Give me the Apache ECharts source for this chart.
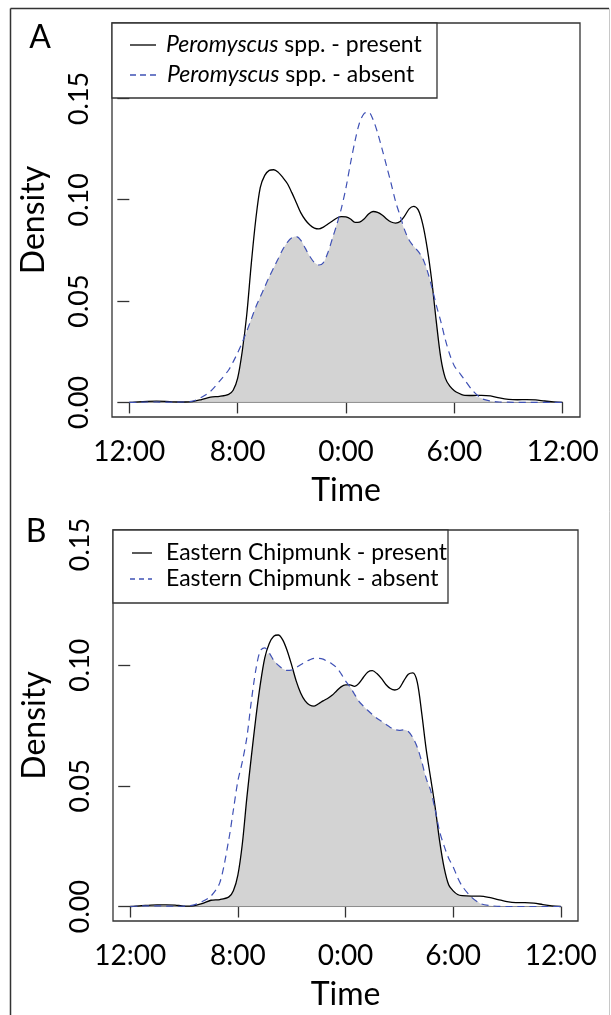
<!DOCTYPE html>
<html><head><meta charset="utf-8">
<script src="https://cdn.jsdelivr.net/npm/echarts@6/dist/echarts.min.js"></script>
<style>html,body{margin:0;padding:0;background:#fff}#c{width:611px;height:1015px}</style>
</head><body><div id="c"></div>
<script>
// ---- data (hours counted from noon: 0 = 12:00, 12 = 0:00, 24 = 12:00) ----
const hours = [0,0.5,1,1.5,2,2.5,3,3.5,4,4.5,5,5.5,
  5.75,6,6.25,6.5,6.75,7,7.25,7.5,7.75,8,8.25,8.5,8.75,
  9,9.25,9.5,9.75,10,10.25,10.5,10.75,11,11.25,11.5,11.75,
  12,12.25,12.5,12.75,13,13.25,13.5,13.75,
  14,14.25,14.5,14.75,15,15.25,15.5,15.75,
  16,16.25,16.5,16.75,17,17.25,17.5,17.75,18,18.25,
  18.5,19,19.5,20,20.5,21,21.5,22,22.5,23,23.5,24];

const tickHours = [0, 6, 12, 18, 24];
const tickLabels = ['12:00', '8:00', '0:00', '6:00', '12:00'];
const densityTicks = [0, 0.05, 0.10, 0.15];

const presentA = [0,0.0003,0.0005,0.0006,0.0005,0.0003,0.0002,0.0004,0.0014,0.0026,0.0030,0.0040,
  0.0060,0.0120,0.0250,0.0430,0.0680,0.0900,0.1060,0.1120,0.1145,0.1148,0.1135,0.1110,0.1080,
  0.1035,0.0985,0.0935,0.0900,0.0875,0.0860,0.0856,0.0865,0.0880,0.0895,0.0910,0.0917,
  0.0915,0.0905,0.0888,0.0890,0.0905,0.0930,0.0942,0.0938,
  0.0925,0.0905,0.0890,0.0885,0.0893,0.0920,0.0955,0.0967,
  0.0950,0.0880,0.0760,0.0600,0.0400,0.0220,0.0120,0.0080,0.0058,0.0045,
  0.0036,0.0034,0.0035,0.0032,0.0022,0.0015,0.0013,0.0014,0.0012,0.0007,0.0003,0];

const absentA = [0,0.0001,0.0002,0.0002,0.0001,0.0001,0.0002,0.0006,0.0025,0.0055,0.0105,0.0160,
  0.0200,0.0245,0.0295,0.0350,0.0410,0.0470,0.0520,0.0570,0.0620,0.0665,0.0710,0.0755,0.0790,
  0.0812,0.0818,0.0800,0.0760,0.0720,0.0690,0.0678,0.0690,0.0740,0.0810,0.0880,0.0960,
  0.1060,0.1180,0.1290,0.1380,0.1425,0.1432,0.1395,0.1330,
  0.1250,0.1165,0.1080,0.0990,0.0920,0.0850,0.0800,0.0770,
  0.0745,0.0710,0.0650,0.0570,0.0480,0.0400,0.0310,0.0235,0.0180,0.0150,
  0.0120,0.0060,0.0020,0.0007,0.0002,0.0001,0,0,0,0,0,0];

const presentB = [0,0.0003,0.0005,0.0007,0.0007,0.0006,0.0002,0.0003,0.0012,0.0026,0.0029,0.0040,
  0.0065,0.0130,0.0260,0.0450,0.0620,0.0780,0.0920,0.1030,0.1090,0.1120,0.1125,0.1105,0.1060,
  0.1000,0.0935,0.0885,0.0852,0.0835,0.0830,0.0840,0.0852,0.0862,0.0875,0.0893,0.0910,
  0.0918,0.0918,0.0912,0.0925,0.0950,0.0972,0.0977,0.0965,
  0.0945,0.0920,0.0903,0.0897,0.0905,0.0935,0.0962,0.0968,
  0.0930,0.0800,0.0650,0.0530,0.0410,0.0270,0.0160,0.0090,0.0065,0.0050,
  0.0045,0.0043,0.0043,0.0038,0.0029,0.0020,0.0016,0.0016,0.0014,0.0008,0.0003,0];

const absentB = [0,0.0002,0.0003,0.0003,0.0002,0.0001,0.0002,0.0006,0.0020,0.0043,0.0100,0.0280,
  0.0400,0.0520,0.0600,0.0700,0.0850,0.0980,0.1060,0.1072,0.1050,0.1020,0.1000,0.0985,0.0978,
  0.0980,0.0990,0.1002,0.1013,0.1022,0.1028,0.1028,0.1025,0.1015,0.1005,0.0990,0.0965,
  0.0935,0.0910,0.0880,0.0850,0.0830,0.0812,0.0795,0.0780,
  0.0768,0.0755,0.0742,0.0733,0.0730,0.0732,0.0725,0.0700,
  0.0660,0.0600,0.0530,0.0480,0.0400,0.0310,0.0250,0.0200,0.0165,0.0120,
  0.0085,0.0040,0.0013,0.0004,0.0001,0,0,0,0,0,0,0];

const panelLabels = ['A', 'B'];
const legendA = ['{i|Peromyscus} spp. - present', '{i|Peromyscus} spp. - absent'];
const legendB = ['Eastern Chipmunk - present', 'Eastern Chipmunk - absent'];

// ---- chart ----
const FONT = 'Lato';
const AXC = '#333';
const BLUE = '#3f51b5';

function xAxisCfg(gi) {
  return {
    gridIndex: gi, type: 'value', min: -0.96, max: 24.96,
    axisLine: { show: false }, splitLine: { show: false },
    axisTick: { show: true, length: 11, customValues: tickHours, lineStyle: { color: AXC, width: 1.3 } },
    axisLabel: { customValues: tickHours, formatter: v => tickLabels[tickHours.indexOf(v)],
      fontFamily: FONT, fontSize: 28, color: '#000', margin: 21 },
    name: 'Time', nameLocation: 'middle', nameGap: 58,
    nameTextStyle: { fontFamily: FONT, fontSize: 32, color: '#000' }
  };
}
function yAxisCfg(gi, min, max) {
  return {
    gridIndex: gi, type: 'value', min: min, max: max,
    axisLine: { show: false }, splitLine: { show: false },
    axisTick: { show: true, length: 12, customValues: densityTicks, lineStyle: { color: AXC, width: 1.3 } },
    axisLabel: { customValues: densityTicks, formatter: v => v.toFixed(2), rotate: 90,
      fontFamily: FONT, fontSize: 27, color: '#000', margin: 19 },
    name: 'Density', nameLocation: 'middle', nameRotate: 90, nameGap: 62,
    nameTextStyle: { fontFamily: FONT, fontSize: 32, color: '#000' }
  };
}
function seriesFor(gi, pres, abs) {
  const pair = arr => hours.map((h, i) => [h, arr[i]]);
  return [
    { type: 'line', xAxisIndex: gi, yAxisIndex: gi, data: hours.map((h, i) => [h, Math.min(pres[i], abs[i])]),
      smooth: 0.3, symbol: 'none', lineStyle: { width: 0 }, areaStyle: { color: '#d3d3d3', opacity: 1 }, z: 1, silent: true },
    { type: 'line', xAxisIndex: gi, yAxisIndex: gi, data: [[hours[0], 0], [hours[hours.length - 1], 0]],
      symbol: 'none', lineStyle: { color: '#8c8c8c', width: 1 }, z: 2, silent: true },
    { type: 'line', xAxisIndex: gi, yAxisIndex: gi, data: pair(pres), smooth: 0.3, symbol: 'none',
      lineStyle: { color: '#000', width: 1.3 }, z: 3 },
    { type: 'line', xAxisIndex: gi, yAxisIndex: gi, data: pair(abs), smooth: 0.3, symbol: 'none',
      lineStyle: { color: BLUE, width: 1.2, type: [7, 5] }, z: 4 }
  ];
}
function legendGraphics(box, lines, rows, dash) {
  const g = [{ type: 'rect', z: 50, shape: box, style: { fill: '#fff', stroke: AXC, lineWidth: 1.3 } }];
  rows.forEach((r, k) => {
    g.push({ type: 'line', z: 51, shape: { x1: r.x1, y1: r.y, x2: r.x2, y2: r.y },
      style: { stroke: k === 0 ? '#000' : BLUE, lineWidth: 1.3, lineDash: k === 0 ? null : dash } });
    g.push({ type: 'text', z: 51, x: r.tx, y: r.y,
      style: { text: lines[k], fontFamily: FONT, fontSize: 23, fill: '#000', align: 'left', verticalAlign: 'middle',
        rich: { i: { fontFamily: FONT, fontSize: 23, fontStyle: 'italic', fill: '#000' } } } });
  });
  return g;
}

const chart = echarts.init(document.getElementById('c'), null, { renderer: 'canvas' });
chart.setOption({
  animation: false,
  backgroundColor: '#fff',
  grid: [
    { left: 112, top: 23, width: 468, height: 394, show: true, borderColor: AXC, borderWidth: 1.3, backgroundColor: 'transparent' },
    { left: 113, top: 530, width: 465, height: 391, show: true, borderColor: AXC, borderWidth: 1.3, backgroundColor: 'transparent' }
  ],
  xAxis: [xAxisCfg(0), xAxisCfg(1)],
  yAxis: [yAxisCfg(0, -0.0072, 0.1872), yAxisCfg(1, -0.006, 0.156)],
  series: [...seriesFor(0, presentA, absentA), ...seriesFor(1, presentB, absentB)],
  graphic: [
    { type: 'line', z: 60, shape: { x1: 10.5, y1: 8.5, x2: 10.5, y2: 1015 }, style: { stroke: '#333', lineWidth: 1.5 } },
    { type: 'line', z: 60, shape: { x1: 10.5, y1: 8.5, x2: 609, y2: 8.5 }, style: { stroke: '#333', lineWidth: 1.5 } },
    { type: 'line', z: 60, shape: { x1: 609.5, y1: 8.5, x2: 609.5, y2: 1015 }, style: { stroke: '#c8c8c8', lineWidth: 1 } },
    { type: 'text', z: 60, x: 40, y: 38, style: { text: panelLabels[0], fontFamily: FONT, fontSize: 32, fill: '#000', align: 'center', verticalAlign: 'middle' } },
    { type: 'text', z: 60, x: 36, y: 532, style: { text: panelLabels[1], fontFamily: FONT, fontSize: 32, fill: '#000', align: 'center', verticalAlign: 'middle' } },
    ...legendGraphics({ x: 112, y: 23, width: 325, height: 75 }, legendA,
      [{ x1: 130, x2: 156, y: 45, tx: 166 }, { x1: 130, x2: 156, y: 75, tx: 167 }], [6, 4]),
    ...legendGraphics({ x: 113, y: 530, width: 335, height: 73 }, legendB,
      [{ x1: 132, x2: 152, y: 553, tx: 166 }, { x1: 130, x2: 152, y: 579, tx: 166 }], [5, 4])
  ]
});
</script>
</body></html>
